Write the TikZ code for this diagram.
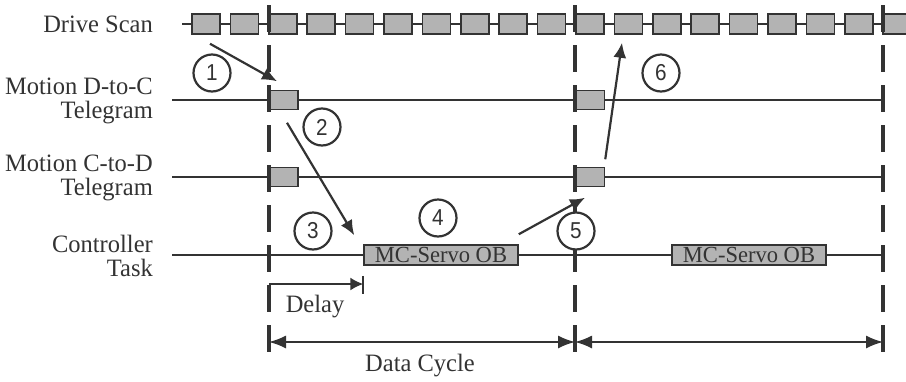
\documentclass[tikz,border=0pt]{standalone}
\usepackage{fontspec}
\setmainfont[FakeStretch=0.98]{Liberation Serif}
\newfontfamily\numfont[FakeStretch=0.9]{Liberation Sans}
\usetikzlibrary{arrows.meta}
\definecolor{ink}{HTML}{333333}
\definecolor{boxgray}{HTML}{B3B3B3}
\tikzset{
  lbl/.style={font=\fontsize{25}{24.5}\selectfont, text=ink, align=right, inner sep=0pt},
  scanbox/.style={draw=ink, fill=boxgray, line width=1.5pt, minimum width=28pt, minimum height=20pt, inner sep=0pt},
  telbox/.style={scanbox, minimum width=29pt, minimum height=19pt},
  obbox/.style={scanbox, minimum width=154pt, font=\fontsize{23}{23}\selectfont, text=ink},
  num/.style={draw=ink, circle, fill=white, line width=2.2pt, minimum size=37pt, inner sep=0pt, font=\numfont\fontsize{23}{23}\selectfont, text=ink},
  tline/.style={draw=ink, line width=1.6pt},
  cycleline/.style={draw=ink, line width=3.4pt, dash pattern=on 27pt off 13pt},
  flow/.style={draw=ink, line width=2.2pt, -{Latex[length=15pt,width=13pt]}},
  span/.style={draw=ink, line width=1.6pt, {Latex[length=17pt,width=13pt]}-{Latex[length=17pt,width=13pt]}},
}
\begin{document}
\begin{tikzpicture}[x=1pt, y=-1pt]
\useasboundingbox (0,0) rectangle (906,381);
\clip (0,0) rectangle (906,381);

\node[lbl, anchor=east] (lds) at (153,24) {Drive Scan};
\node[lbl, anchor=east] (ldc) at (153,101) {Motion D-to-C\\Telegram};
\node[lbl, anchor=east] (lcd) at (153,178) {Motion C-to-D\\Telegram};
\node[lbl, anchor=east] (lct) at (153,256) {Controller\\Task};

\foreach \r/\y/\a/\b in {ds/24/182/906, dc/100/172/883, cd/177/172/883, ct/255/172/883} {
  \coordinate (\r a) at (\a,\y);
  \coordinate (\r b) at (\b,\y);
  \draw[tline] (\r a) -- (\r b);
}

\foreach \i in {0,...,18}
  \node[scanbox] (ds\i) at (206+38.4*\i,24) {};

\node[telbox] (dc1) at (283.5,100) {};
\node[telbox] (dc2) at (590,100) {};
\node[telbox] (cd1) at (283.5,177) {};
\node[telbox] (cd2) at (590,177) {};
\node[obbox] (mc1) at (441,255) {MC-Servo OB};
\node[obbox] (mc2) at (749,255) {MC-Servo OB};

\foreach \n/\x in {0/269,1/575,2/883} {
  \coordinate (top\n) at (\x,5);
  \coordinate (bot\n) at (\x,352);
  \coordinate (cyc\n) at (\x,342);
  \draw[cycleline] (top\n) -- (bot\n);
}

\draw[flow] ([xshift=4pt,yshift=-9pt]ds0.south) -- ([xshift=-6.5pt,yshift=8.5pt]dc1.north);
\draw[flow] ([xshift=3.5pt,yshift=-12.5pt]dc1.south) -- ([xshift=-9pt,yshift=9pt]mc1.north west);
\draw[flow] ([yshift=10pt]mc1.north east) -- ([xshift=-5pt,yshift=-10.5pt]cd2.south);
\draw[flow] ([yshift=7.5pt]cd2.north east) -- ([xshift=-6.4pt,yshift=-8pt]ds11.south);

\node[num] (n1) at (212,73) {1};
\node[num] (n2) at (322,127) {2};
\node[num] (n3) at (313,231) {3};
\node[num] (n4) at (438,218) {4};
\node[num] (n5) at (576,231) {5};
\node[num] (n6) at (661,73) {6};

\coordinate (dl) at (269,284);
\draw[flow, line width=1.6pt, -{Latex[length=13pt,width=13pt]}] (dl) -- (mc1.west |- dl);
\draw[tline] ([yshift=-10pt]mc1.south west) -- ([yshift=-28pt]mc1.south west);
\node[lbl, align=center] (dly) at (315,307) {Delay};

\draw[span] (cyc0) -- (cyc1);
\draw[span] (cyc1) -- (cyc2);
\node[lbl, align=center] (dcy) at (420,366) {Data Cycle};
\end{tikzpicture}
\end{document}
